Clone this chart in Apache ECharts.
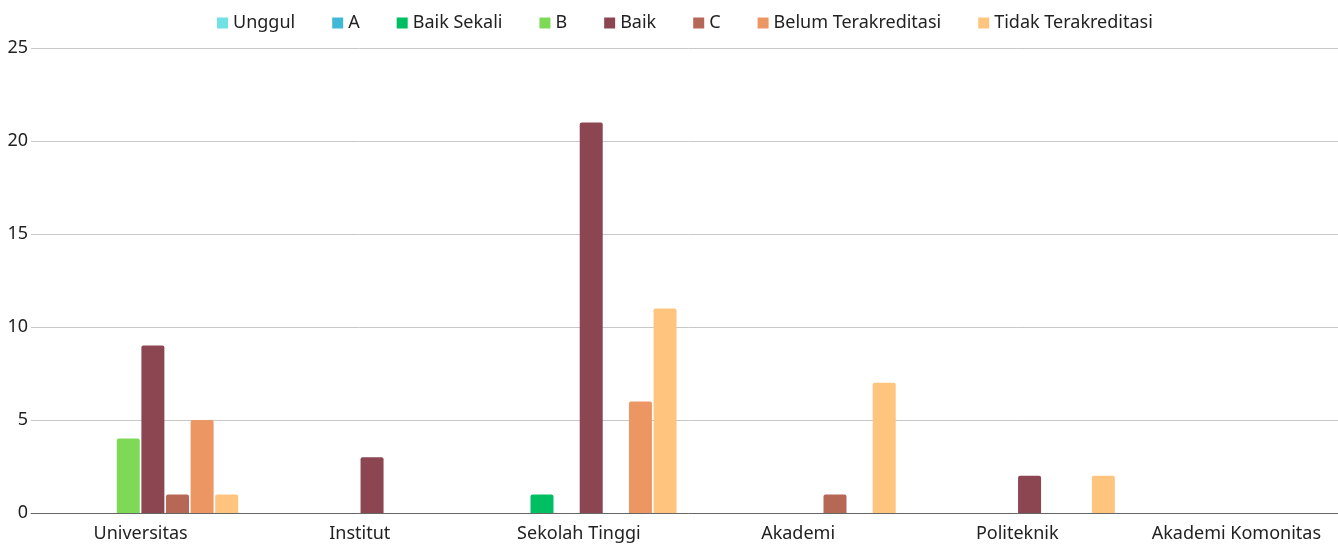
<!DOCTYPE html>
<html>
<head>
<meta charset="utf-8">
<script src="https://cdn.jsdelivr.net/npm/echarts@6/dist/echarts.min.js"></script>
<style>
  html, body { margin: 0; padding: 0; background: #fff; overflow: hidden; }
  #chart { width: 1346px; height: 545px; }
</style>
</head>
<body>
<div id="chart"></div>
<script>
// kategori perguruan tinggi
const categories = ['Universitas', 'Institut', 'Sekolah Tinggi', 'Akademi', 'Politeknik', 'Akademi Komonitas'];
const yTicks = [0, 5, 10, 15, 20, 25];

// jumlah per peringkat akreditasi
const unggul = [0, 0, 0, 0, 0, 0];
const nilaiA = [0, 0, 0, 0, 0, 0];
const baikSekali = [0, 0, 1, 0, 0, 0];
const nilaiB = [4, 0, 0, 0, 0, 0];
const baik = [9, 3, 21, 0, 2, 0];
const nilaiC = [1, 0, 0, 1, 0, 0];
const belumTerakreditasi = [5, 0, 6, 0, 0, 0];
const tidakTerakreditasi = [1, 0, 11, 7, 2, 0];

const seriesNames = ['Unggul', 'A', 'Baik Sekali', 'B', 'Baik', 'C', 'Belum Terakreditasi', 'Tidak Terakreditasi'];
const seriesData = [unggul, nilaiA, baikSekali, nilaiB, baik, nilaiC, belumTerakreditasi, tidakTerakreditasi];
const colors = ['#70e1e4', '#40b8d8', '#00bf63', '#7ed957', '#8b4652', '#b76755', '#ec9664', '#ffc57f'];

const myChart = echarts.init(document.getElementById('chart'));
myChart.setOption({
  animation: false,
  textStyle: { fontFamily: 'Noto Sans' },
  color: colors,
  legend: {
    top: 9,
    left: 212,
    itemWidth: 11,
    itemHeight: 11,
    itemGap: 37,
    icon: 'rect',
    textStyle: { fontSize: 18, color: '#222', fontFamily: 'Noto Sans' },
    data: seriesNames
  },
  grid: {
    left: 31,
    right: 0,
    top: 48,
    bottom: 32,
    containLabel: false
  },
  xAxis: {
    type: 'category',
    data: categories,
    axisTick: { show: false },
    axisLine: { lineStyle: { color: '#666', width: 1 } },
    axisLabel: { color: '#222', fontSize: 18, margin: 12, interval: 0, fontFamily: 'Noto Sans' }
  },
  yAxis: {
    type: 'value',
    min: yTicks[0],
    max: yTicks[yTicks.length - 1],
    interval: 5,
    axisLine: { show: false },
    axisTick: { show: false },
    axisLabel: { color: '#222', fontSize: 18, margin: 3, fontFamily: 'Noto Sans' },
    splitLine: { lineStyle: { color: '#c8c8c8', width: 1 } }
  },
  series: seriesNames.map((name, i) => ({
    name: name,
    type: 'bar',
    data: seriesData[i],
    barWidth: 23,
    barGap: '7%',
    itemStyle: { borderRadius: [2, 2, 0, 0] }
  }))
});
window.addEventListener('resize', () => {
  myChart.resize();
});
</script>
</body>
</html>
